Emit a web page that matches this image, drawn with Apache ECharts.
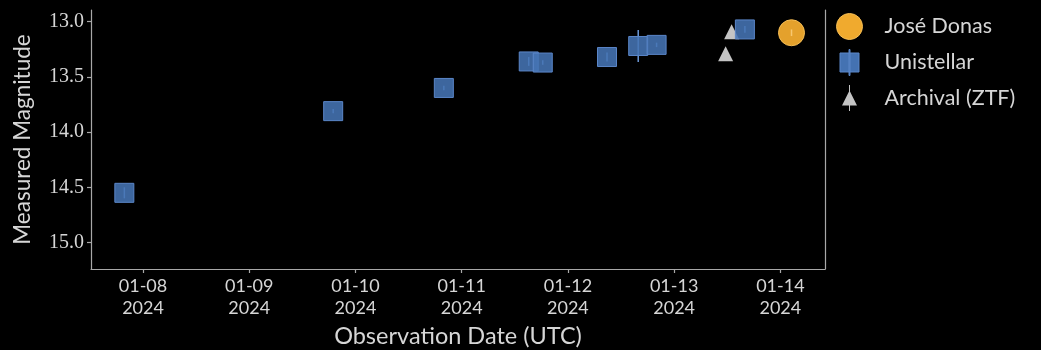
<!DOCTYPE html>
<html>
<head>
<meta charset="utf-8">
<script src="https://cdn.jsdelivr.net/npm/echarts@6/dist/echarts.min.js"></script>
<style>
  html, body { margin: 0; padding: 0; background: #000; }
  #chart { width: 1041px; height: 350px; }
</style>
</head>
<body>
<div id="chart"></div>
<script>
// Observations (UTC timestamps, magnitude, 1-sigma error)
const donasDates = ['2024-01-14T02:31:00Z'];
const donasMags = [13.10];
const donasErrs = [0.03];

const unistellarDates = [
  '2024-01-07T19:47:00Z', '2024-01-09T18:58:00Z', '2024-01-10T19:58:00Z',
  '2024-01-11T15:09:00Z', '2024-01-11T18:19:00Z', '2024-01-12T08:50:00Z',
  '2024-01-12T15:53:00Z', '2024-01-12T20:02:00Z', '2024-01-13T15:59:00Z'
];
const unistellarMags = [14.55, 13.81, 13.60, 13.36, 13.37, 13.32, 13.22, 13.21, 13.07];
const unistellarErrs = [0.05, 0.02, 0.02, 0.04, 0.02, 0.04, 0.145, 0.02, 0.03];

const ztfDates = ['2024-01-13T11:38:00Z', '2024-01-13T12:59:00Z'];
const ztfMags = [13.29, 13.09];
const ztfErrs = [0.02, 0.02];

const dayTicks = ['2024-01-08', '2024-01-09', '2024-01-10', '2024-01-11', '2024-01-12', '2024-01-13', '2024-01-14'];
const magTicks = [13.0, 13.5, 14.0, 14.5, 15.0];

const xMin = '2024-01-07T12:15:00Z';
const xMax = '2024-01-14T10:05:00Z';
const yMin = 12.894;
const yMax = 15.24;

const toPoints = (dates, mags) => dates.map((d, i) => [Date.parse(d), mags[i]]);
const toBars = (dates, mags, errs) => dates.map((d, i) => [Date.parse(d), mags[i] - errs[i], mags[i] + errs[i]]);
const tickStamps = dayTicks.map(d => Date.parse(d + 'T00:00:00Z'));
const pad = n => String(n).padStart(2, '0');

const textColor = '#d6d6d6';
const axisColor = '#a8a8a8';
const sansFont = 'Lato, "Open Sans", sans-serif';
const serifFont = '"Liberation Serif", "DejaVu Serif", serif';

function errorBars(name, data, color, width, z) {
  return {
    type: 'custom',
    name: name,
    data: data,
    z: z,
    silent: true,
    encode: { x: 0, y: [1, 2] },
    renderItem: function (params, api) {
      const lo = api.coord([api.value(0), api.value(1)]);
      const hi = api.coord([api.value(0), api.value(2)]);
      return {
        type: 'line',
        shape: { x1: lo[0], y1: lo[1], x2: hi[0], y2: hi[1] },
        style: { stroke: color, lineWidth: width }
      };
    }
  };
}

const chart = echarts.init(document.getElementById('chart'), null, { renderer: 'canvas' });

const option = {
  backgroundColor: '#000',
  animation: false,
  grid: { left: 91, right: 216, top: 10, bottom: 81, containLabel: false, outerBoundsMode: 'none' },
  legend: {
    orient: 'vertical',
    left: 831,
    top: 8,
    itemWidth: 26,
    itemHeight: 26,
    itemGap: 9,
    symbolKeepAspect: true,
    textStyle: { color: textColor, fontSize: 21.5, fontFamily: sansFont, padding: [0, 0, 0, 17] },
    data: [
      { name: 'José Donas', icon: 'path://M13,0 A13,13 0 1,1 12.99,0 Z', itemStyle: { color: '#f0aa2e', borderColor: '#f5bd55', borderWidth: 1 } },
      { name: 'Unistellar', icon: 'path://M0,3.5 H19 V22.5 H0 Z M9,0 H10 V26 H9 Z', itemStyle: { color: '#4472b2', borderColor: '#5b86c8', borderWidth: 1 } },
      { name: 'Archival (ZTF)', icon: 'path://M7.5,5.5 L15,20.5 L0,20.5 Z M7,0 H8 V26 H7 Z', itemStyle: { color: '#c4c4c4', borderColor: '#c4c4c4', borderWidth: 0 } }
    ]
  },
  xAxis: {
    type: 'value',
    min: Date.parse(xMin),
    max: Date.parse(xMax),
    name: 'Observation Date (UTC)',
    nameLocation: 'middle',
    nameGap: 55,
    nameTextStyle: { color: textColor, fontSize: 23.5, fontFamily: sansFont },
    axisLine: { show: true, lineStyle: { color: axisColor, width: 1.2 } },
    axisTick: { show: true, inside: false, length: 4, customValues: tickStamps, lineStyle: { color: axisColor, width: 1.2 } },
    axisLabel: {
      customValues: tickStamps,
      color: textColor,
      fontSize: 18,
      lineHeight: 22,
      margin: 6,
      fontFamily: sansFont,
      hideOverlap: false,
      formatter: function (v) {
        const d = new Date(v);
        return pad(d.getUTCMonth() + 1) + '-' + pad(d.getUTCDate()) + '\n' + d.getUTCFullYear();
      }
    },
    splitLine: { show: false }
  },
  yAxis: [
    {
      type: 'value',
      inverse: true,
      min: yMin,
      max: yMax,
      name: 'Measured Magnitude',
      nameLocation: 'middle',
      nameGap: 57,
      nameRotate: 90,
      nameTextStyle: { color: textColor, fontSize: 22.5, fontFamily: sansFont },
      axisLine: { show: true, lineStyle: { color: axisColor, width: 1.2 } },
      axisTick: { show: true, length: 4, customValues: magTicks, lineStyle: { color: axisColor, width: 1.2 } },
      axisLabel: {
        customValues: magTicks,
        color: textColor,
        fontSize: 20,
        margin: 7,
        fontFamily: serifFont,
        formatter: v => Number(v).toFixed(1)
      },
      splitLine: { show: false }
    },
    {
      type: 'value',
      inverse: true,
      min: yMin,
      max: yMax,
      position: 'right',
      axisLine: { show: true, lineStyle: { color: axisColor, width: 1.2 } },
      axisTick: { show: false },
      axisLabel: { show: false },
      splitLine: { show: false }
    }
  ],
  series: [
    errorBars('Unistellar', toBars(unistellarDates, unistellarMags, unistellarErrs), '#6b98d8', 1.5, 2),
    {
      type: 'scatter',
      name: 'Unistellar',
      data: toPoints(unistellarDates, unistellarMags),
      symbol: 'rect',
      symbolSize: 19,
      z: 3,
      itemStyle: { color: 'rgba(70,116,180,0.88)', borderColor: '#5b86c8', borderWidth: 1, opacity: 1 }
    },
    errorBars('Archival (ZTF)', toBars(ztfDates, ztfMags, ztfErrs), '#c4c4c4', 1.2, 2),
    {
      type: 'scatter',
      name: 'Archival (ZTF)',
      data: toPoints(ztfDates, ztfMags),
      symbol: 'triangle',
      symbolSize: [15, 15],
      z: 2,
      itemStyle: { color: '#c4c4c4', opacity: 1 }
    },
    errorBars('José Donas', toBars(donasDates, donasMags, donasErrs), '#f8c870', 1.5, 5),
    {
      type: 'scatter',
      name: 'José Donas',
      data: toPoints(donasDates, donasMags),
      symbol: 'circle',
      symbolSize: 26,
      z: 4,
      itemStyle: { color: 'rgba(240,170,46,0.95)', borderColor: '#f5bd55', borderWidth: 1, opacity: 1 }
    }
  ]
};

chart.setOption(option);
</script>
</body>
</html>
